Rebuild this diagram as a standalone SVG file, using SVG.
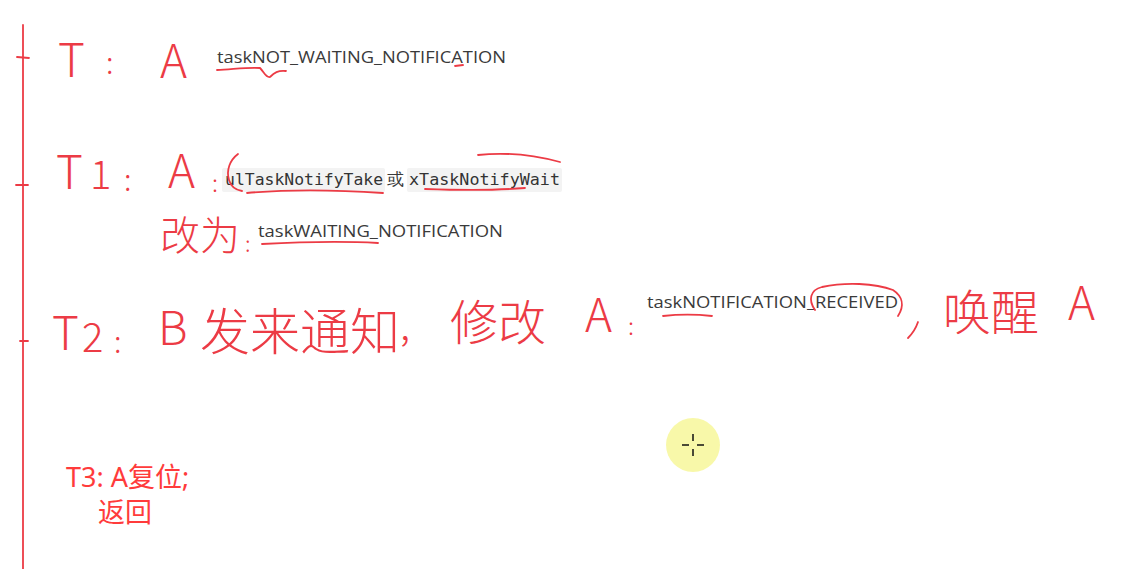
<svg xmlns="http://www.w3.org/2000/svg" width="1127" height="569" viewBox="0 0 1127 569">
<style>
.hw{font-family:"Noto Sans CJK SC","Noto Sans",sans-serif;font-weight:300;fill:#ec3b45}
.ink{fill:none;stroke:#ec3b45;stroke-width:1.8;stroke-linecap:round;stroke-linejoin:round}
.lbl{font-family:"Open Sans","Noto Sans",sans-serif;font-size:17px;fill:#3a3a3a}
.code{font-family:"DejaVu Sans Mono","Liberation Mono",monospace;font-size:16px;fill:#333}
.t3{font-family:"Noto Sans","Noto Sans CJK SC",sans-serif;font-size:27px;fill:#ff3b3b}
</style>
<rect width="1127" height="569" fill="#ffffff"/>
<g id="timeline">
<path class="ink" d="M23 25 L23 569"/>
<path class="ink" d="M17 57 L29 58"/>
<path class="ink" d="M16 185 L28 185"/>
<path class="ink" d="M20 341 L28 341"/>
</g>
<g id="row-T">
<text class="hw" x="58" y="77" font-size="46">T</text>
<text class="hw" x="106" y="74" font-size="30">:</text>
<text class="hw" x="160" y="78" font-size="46">A</text>
<text class="lbl" x="217" y="63" textLength="289" lengthAdjust="spacingAndGlyphs">taskNOT_WAITING_NOTIFICATION</text>
<path class="ink" d="M217 70 C235 69 250 67 260 68 C264 72 266 78 270 77 C274 73 278 70 286 71"/>
<path class="ink" d="M455 66 L463 65"/>
</g>
<g id="row-T1">
<text class="hw" x="56" y="189" font-size="46">T</text>
<text class="hw" x="90" y="189" font-size="40">1</text>
<text class="hw" x="124" y="191" font-size="30">:</text>
<text class="hw" x="168" y="188" font-size="46">A</text>
<text class="hw" x="212" y="192" font-size="24">:</text>
<rect x="222" y="168" width="163" height="24" rx="2" fill="#f3f3f3"/>
<rect x="407" y="168" width="155" height="24" rx="2" fill="#f3f3f3"/>
<text class="code" x="225" y="185" textLength="158" lengthAdjust="spacingAndGlyphs">ulTaskNotifyTake</text>
<text class="lbl" x="387" y="185" font-family="Noto Sans CJK SC,sans-serif" font-size="17">或</text>
<text class="code" x="409" y="185" textLength="151" lengthAdjust="spacingAndGlyphs">xTaskNotifyWait</text>
<path class="ink" d="M238 154 C230 160 226 170 229 180 C231 187 236 190 242 191"/>
<path class="ink" d="M247 193 C290 189 340 190 383 193"/>
<path class="ink" d="M478 155 C505 152 530 154 560 162"/>
<path class="ink" d="M425 189 C455 190 490 191 525 188"/>
<text class="hw" x="160" y="250" font-size="40">改为</text>
<text class="hw" x="245" y="252" font-size="22">:</text>
<text class="lbl" x="258" y="237" textLength="245" lengthAdjust="spacingAndGlyphs">taskWAITING_NOTIFICATION</text>
<path class="ink" d="M262 244 C300 242 340 241 378 243"/>
</g>
<g id="row-T2">
<text class="hw" x="52" y="350" font-size="46">T</text>
<text class="hw" x="82" y="352" font-size="40">2</text>
<text class="hw" x="114" y="353" font-size="30">:</text>
<text class="hw" x="158" y="345" font-size="46">B</text>
<text class="hw" x="200" y="350" font-size="50">发来通知</text>
<text class="hw" x="400" y="340" font-size="40">,</text>
<text class="hw" x="450" y="340" font-size="48">修改</text>
<text class="hw" x="585" y="332" font-size="46">A</text>
<text class="hw" x="628" y="335" font-size="24">:</text>
<text class="lbl" x="647" y="308" textLength="251" lengthAdjust="spacingAndGlyphs">taskNOTIFICATION_RECEIVED</text>
<path class="ink" d="M663 316 C680 314 695 314 712 316"/>
<path class="ink" d="M815 310 C808 300 810 290 822 287 C845 282 875 283 893 290 C902 296 905 305 898 316"/>
<path class="ink" d="M918 322 C916 328 912 334 908 338"/>
<text class="hw" x="943" y="330" font-size="48">唤醒</text>
<text class="hw" x="1068" y="320" font-size="46">A</text>
</g>
<g id="row-T3">
<text class="t3" x="66" y="487">T3: A复位;</text>
<text class="t3" x="98" y="522">返回</text>
</g>
<g id="cursor">
<circle cx="693" cy="445" r="27" fill="#f7f79a" opacity="0.85"/>
<path d="M693 434 V441 M693 449 V456 M682 445 H689 M697 445 H704" stroke="#111" stroke-width="1.5"/>
</g>
</svg>
